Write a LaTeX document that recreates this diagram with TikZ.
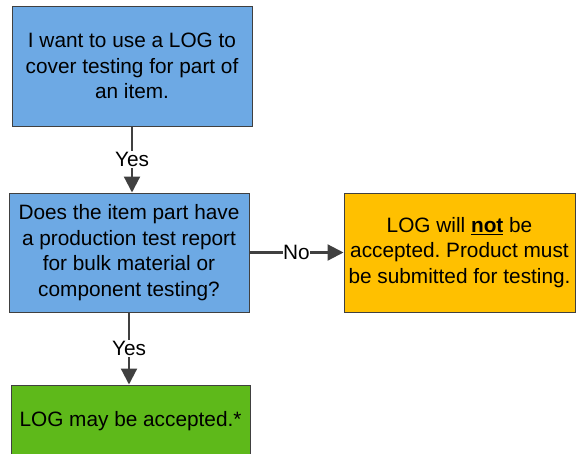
\documentclass[tikz,border=0pt]{standalone}
\usepackage{fontspec}
\setmainfont{Liberation Sans}
\frenchspacing
\usetikzlibrary{arrows.meta}
\definecolor{boxblue}{RGB}{109,169,228}
\definecolor{boxorange}{RGB}{255,192,0}
\definecolor{boxgreen}{RGB}{94,185,26}
\definecolor{edgegrey}{RGB}{64,64,64}
\begin{document}
\begin{tikzpicture}[x=1pt,y=1pt,
  box/.style={draw=edgegrey, line width=1pt, rectangle, align=center, inner sep=0pt,
    font=\fontsize{20.8}{25.5}\selectfont},
  conn/.style={draw=edgegrey, line width=2.2pt, -{Triangle[length=16pt,width=16pt]}},
  lbl/.style={fill=white, inner sep=1pt, font=\fontsize{20.8}{25.5}\selectfont}]
\useasboundingbox (0,0) rectangle (576,-453);
\clip (0,0) rectangle (576,-453);
\node[box, fill=boxblue, minimum width=240pt, minimum height=120pt] (b1) at (132,-66)
  {I want to use a LOG to\\cover testing for part of\\an item.};
\node[box, fill=boxblue, minimum width=240pt, minimum height=119pt] (b2) at (129,-252.5)
  {Does the item part have\\a production test report\\for bulk material or\\component testing?};
\node[box, fill=boxorange, minimum width=231pt, minimum height=119pt] (b3) at (459.5,-252.5)
  {LOG will \textbf{\underline{not}} be\\accepted. Product must\\be submitted for testing.};
\node[box, fill=boxgreen, minimum width=239pt, minimum height=72pt] (b4) at (130.5,-421)
  {LOG may be accepted.*};
\draw[conn] (b1.south) -- node[lbl]{Yes} (b1.south |- b2.north);
\draw[conn] (b2.south) -- node[lbl]{Yes} (b2.south |- b4.north);
\draw[conn] (b2.east) -- node[lbl, inner sep=0.5pt]{No} (b3.west);
\end{tikzpicture}
\end{document}
